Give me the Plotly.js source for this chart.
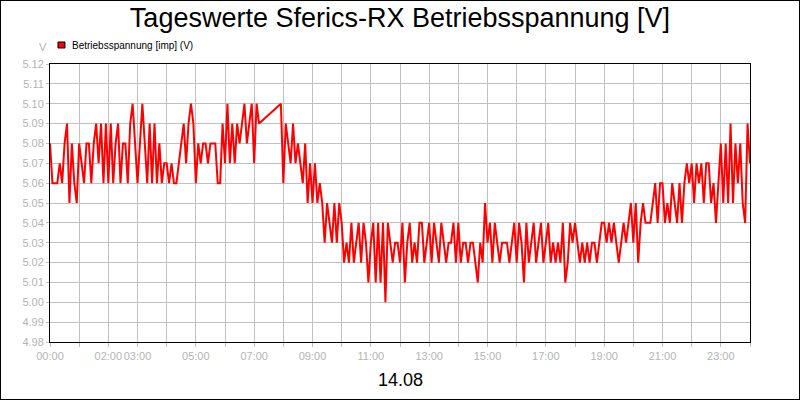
<!DOCTYPE html>
<html>
<head>
<meta charset="utf-8">
<script src="https://cdn.plot.ly/plotly-3.0.1.min.js"></script>
<style>
  html, body { margin: 0; padding: 0; background: #fff; }
  #frame { width: 800px; height: 400px; box-sizing: border-box; border: 1px solid #000; }
</style>
</head>
<body>
<div id="frame"><div id="chart"></div></div>
<script>
// ── Data: one reading every 5 minutes, 14.08 (null = no reading) ─────────────
const STEP_MIN = 5;

const volts = [
  5.08,5.06,5.06,5.06,5.07,5.06,5.08,5.09,5.05,5.08,5.06,5.05,  // 00h
  5.08,5.07,5.06,5.08,5.08,5.06,5.08,5.09,5.07,5.09,5.06,5.09,  // 01h
  5.06,5.09,5.06,5.08,5.09,5.06,5.08,5.08,5.06,5.09,5.10,5.08,  // 02h
  5.06,5.08,5.10,5.08,5.06,5.09,5.06,5.09,5.06,5.08,5.06,5.07,  // 03h
  5.07,5.06,5.07,5.06,5.06,5.07,5.08,5.09,5.07,5.09,5.10,5.09,  // 04h
  5.06,5.08,5.07,5.08,5.08,5.07,5.08,5.08,5.08,5.06,5.06,5.09,  // 05h
  5.07,5.10,5.07,5.09,5.07,5.09,5.08,5.09,5.10,5.08,5.09,5.10,  // 06h
  5.07,5.10,5.09,null,null,null,null,null,null,null,null,5.10,  // 07h
  5.06,5.09,5.08,5.07,5.09,5.07,5.08,5.07,5.06,5.08,5.05,5.07,  // 08h
  5.05,5.07,5.05,5.06,5.05,5.03,5.05,5.04,5.03,5.05,5.03,5.05,  // 09h
  5.04,5.02,5.03,5.02,5.04,5.02,5.03,5.04,5.02,5.04,5.03,5.01,  // 10h
  5.03,5.04,5.01,5.04,5.01,5.04,5.00,5.04,5.03,5.02,5.03,5.03,  // 11h
  5.02,5.04,5.01,5.03,5.04,5.02,5.03,5.02,5.04,5.04,5.02,5.03,  // 12h
  5.04,5.02,5.04,5.03,5.02,5.04,5.03,5.02,5.03,5.03,5.04,5.02,  // 13h
  5.04,5.02,5.03,5.03,5.02,5.03,5.03,5.02,5.01,5.03,5.02,5.05,  // 14h
  5.03,5.04,5.02,5.04,5.03,5.02,5.03,5.03,5.03,5.02,5.03,5.04,  // 15h
  5.02,5.04,5.03,5.01,5.04,5.02,5.03,5.04,5.02,5.03,5.04,5.02,  // 16h
  5.03,5.04,5.02,5.03,5.02,5.03,5.02,5.04,5.01,5.02,5.04,5.03,  // 17h
  5.04,5.03,5.02,5.03,5.02,5.03,5.02,5.03,5.03,5.02,5.03,5.04,  // 18h
  5.04,5.03,5.04,5.03,5.04,5.03,5.02,5.03,5.04,5.03,5.04,5.05,  // 19h
  5.03,5.05,5.02,5.04,5.05,5.04,5.04,5.04,5.05,5.06,5.04,5.06,  // 20h
  5.06,5.04,5.05,5.04,5.06,5.05,5.04,5.06,5.04,5.06,5.07,5.06,  // 21h
  5.07,5.05,5.07,5.06,5.07,5.05,5.07,5.07,5.05,5.06,5.04,5.06,  // 22h
  5.08,5.05,5.08,5.05,5.09,5.05,5.08,5.06,5.08,5.05,5.04,5.09,  // 23h
  5.07                                                          // 24h
];

const tickHours  = [0,1,2,3,4,5,6,7,8,9,10,11,12,13,14,15,16,17,18,19,20,21,22,23,24];
const tickLabels = ['00:00','','02:00','03:00','','05:00','','07:00','','09:00','','11:00','',
                    '13:00','','15:00','','17:00','','19:00','','21:00','','23:00',''];

const hours = volts.map((_, i) => i * STEP_MIN / 60);

// ── Chart ────────────────────────────────────────────────────────────────────
const FONT = 'Liberation Sans, Arial, sans-serif';
const GRID = '#c0c0c0';
const LABEL = '#b4b4b4';

Plotly.newPlot('chart', [{
  x: hours, y: volts,
  mode: 'lines', connectgaps: true,
  name: 'Betriebsspannung [imp] (V)',
  line: { color: '#ff0000', width: 2 },
  hoverinfo: 'skip',
}], {
  width: 798, height: 398,
  paper_bgcolor: '#fff', plot_bgcolor: '#fff',
  font: { family: FONT, color: '#000', size: 11 },
  margin: { l: 49, r: 49, t: 63, b: 57 },
  showlegend: false,
  title: {
    text: 'Tageswerte Sferics-RX Betriebsspannung [V]',
    font: { family: FONT, size: 27, color: '#000' },
    x: 0.5, xanchor: 'center', yref: 'container', y: 1 - 17 / 398, yanchor: 'middle',
  },
  xaxis: {
    range: [0, 24], tickvals: tickHours, ticktext: tickLabels, tickangle: 0,
    showgrid: true, gridcolor: GRID, gridwidth: 1, zeroline: false,
    showline: true, linecolor: '#000', linewidth: 1, mirror: true,
    ticks: 'outside', ticklen: 4, tickcolor: GRID,
    tickfont: { family: FONT, size: 11, color: LABEL },
    fixedrange: true,
  },
  yaxis: {
    range: [4.98, 5.12], dtick: 0.01, tick0: 4.98, tickformat: '.2f',
    showgrid: true, gridcolor: GRID, gridwidth: 1, zeroline: false,
    showline: true, linecolor: '#000', linewidth: 1, mirror: true,
    ticks: 'outside', ticklen: 3, tickcolor: GRID,
    tickfont: { family: FONT, size: 11, color: LABEL },
    fixedrange: true,
  },
  shapes: [{
    type: 'rect', xref: 'paper', yref: 'paper',
    x0: 0.0114, x1: 0.0214, y0: 1.0576, y1: 1.0791,
    fillcolor: '#ff0000', line: { color: '#000', width: 1 },
  }],
  annotations: [
    { text: 'Betriebsspannung [imp] (V)', xref: 'paper', yref: 'paper', x: 0.0286, y: 1.068,
      xanchor: 'left', yanchor: 'middle', showarrow: false, font: { family: FONT, size: 10, color: '#000' } },
    { text: 'V', xref: 'paper', yref: 'paper', x: -0.01, y: 1.061,
      xanchor: 'center', yanchor: 'middle', showarrow: false, font: { family: FONT, size: 11, color: LABEL } },
    { text: '14.08', xref: 'paper', yref: 'paper', x: 0.5, y: -0.137,
      xanchor: 'center', yanchor: 'middle', showarrow: false, font: { family: FONT, size: 18, color: '#000' } },
  ],
}, { displayModeBar: false, staticPlot: true });
</script>
</body>
</html>
